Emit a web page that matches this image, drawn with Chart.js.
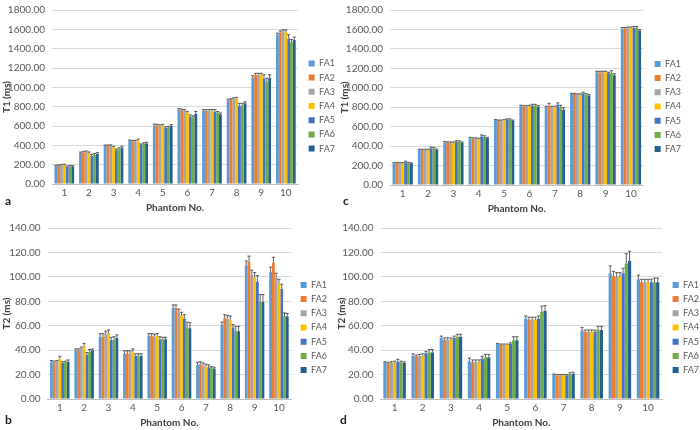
<!DOCTYPE html>
<html>
<head>
<meta charset="utf-8">
<script src="https://cdn.jsdelivr.net/npm/chart.js@4.4.0/dist/chart.umd.min.js"></script>
<style>
  html, body { margin: 0; overflow: hidden; }
  body { background: #fff; width: 700px; height: 430px; position: relative; font-family: Lato, sans-serif; }
  .panel { position: absolute; }
  .tag { position: absolute; font: bold 12px Lato, sans-serif; color: #222; }
</style>
</head>
<body>
<div class="panel" style="left:0;top:-3px;width:347px;height:217px"><canvas id="chartA"></canvas></div>
<div class="panel" style="left:335px;top:-3px;width:358px;height:218px"><canvas id="chartC"></canvas></div>
<div class="panel" style="left:0;top:215px;width:339px;height:214px"><canvas id="chartB"></canvas></div>
<div class="panel" style="left:335px;top:215px;width:376px;height:214px"><canvas id="chartD"></canvas></div>
<div class="tag" style="left:5px;top:193px">a</div>
<div class="tag" style="left:343px;top:193px">c</div>
<div class="tag" style="left:5px;top:412px">b</div>
<div class="tag" style="left:340px;top:412px">d</div>
<script>
const phantoms = ['1', '2', '3', '4', '5', '6', '7', '8', '9', '10'];
const seriesNames = ['FA1', 'FA2', 'FA3', 'FA4', 'FA5', 'FA6', 'FA7'];
const seriesColors = ['#5B9BD5', '#ED7D31', '#A5A5A5', '#FFC000', '#4472C4', '#70AD47', '#255E91'];

// panel a: T1
const t1A = [
  [185, 320, 395, 445, 605, 770, 755, 865, 1100, 1545],
  [190, 325, 395, 440, 605, 765, 755, 870, 1125, 1565],
  [193, 330, 395, 440, 600, 760, 755, 880, 1130, 1580],
  [195, 320, 380, 450, 605, 740, 755, 885, 1130, 1575],
  [180, 290, 350, 405, 580, 700, 750, 810, 1090, 1505],
  [182, 300, 360, 415, 585, 690, 735, 810, 1055, 1465],
  [182, 310, 375, 420, 600, 725, 720, 835, 1095, 1490]
];
const t1AErr = [
  [8, 10, 8, 10, 15, 10, 15, 12, 20, 15],
  [8, 10, 8, 10, 12, 10, 15, 12, 20, 20],
  [8, 12, 10, 12, 12, 10, 15, 12, 15, 15],
  [10, 12, 10, 15, 12, 12, 15, 12, 15, 20],
  [8, 15, 12, 10, 12, 15, 20, 25, 40, 40],
  [8, 15, 15, 12, 12, 15, 15, 25, 40, 30],
  [8, 15, 15, 12, 15, 25, 15, 15, 35, 30]
];

// panel c: T1
const t1C = [
  [225, 360, 440, 480, 665, 810, 800, 935, 1160, 1610],
  [225, 360, 435, 475, 660, 805, 815, 935, 1160, 1610],
  [225, 360, 435, 475, 660, 805, 800, 930, 1160, 1615],
  [225, 360, 435, 470, 665, 810, 800, 930, 1160, 1615],
  [235, 375, 445, 500, 670, 815, 825, 940, 1150, 1615],
  [225, 375, 445, 495, 670, 815, 800, 930, 1150, 1615],
  [220, 360, 435, 480, 660, 805, 775, 920, 1130, 1590]
];
const t1CErr = [
  [5, 8, 8, 10, 8, 10, 10, 8, 10, 10],
  [5, 8, 8, 10, 8, 10, 25, 8, 10, 10],
  [5, 8, 8, 10, 8, 10, 10, 8, 10, 10],
  [5, 8, 8, 10, 8, 10, 10, 8, 10, 10],
  [10, 15, 10, 15, 10, 15, 20, 15, 10, 15],
  [8, 12, 10, 12, 10, 15, 20, 10, 25, 15],
  [8, 10, 8, 10, 8, 12, 20, 10, 15, 10]
];

// panel b: T2
const t2B = [
  [30.5, 40, 51, 37, 51.5, 74.5, 28, 60.5, 109.5, 104],
  [30, 40, 51, 37, 51.5, 74.5, 28.5, 66.5, 112.5, 111.5],
  [30.5, 41.5, 53, 37, 51, 71, 27.5, 66, 101.5, 99.5],
  [33, 43.5, 54, 38.5, 51.5, 68.5, 26.5, 65, 99.5, 94],
  [29.5, 36, 48, 35.5, 49, 66, 26, 58.5, 96, 90],
  [30, 38.5, 48.5, 35.5, 49, 58.5, 25.5, 55.5, 79.5, 68],
  [30.5, 40, 50, 35.5, 49, 58, 25, 55.5, 79.5, 67.5]
];
const t2BErr = [
  [1, 1, 2.5, 2.5, 2, 2.5, 2, 2.5, 3.5, 4],
  [1, 1, 2.5, 2.5, 2, 2.5, 2, 2.5, 4.5, 4.5],
  [1, 1, 2.5, 2.5, 2, 2.5, 2, 2.5, 4, 3.5],
  [2, 2, 2.5, 2.5, 2, 2.5, 2, 3, 4, 4],
  [1, 2, 2.5, 1.5, 2, 3, 2, 2.5, 5, 4],
  [1, 2, 2.5, 1.5, 1.5, 4.5, 1, 4, 6, 2.5],
  [1.5, 1, 2.5, 1.5, 1.5, 4.5, 1, 4, 6, 2.5]
];

// panel d: T2
const t2D = [
  [30, 35.5, 50, 31, 45, 66, 20, 56, 103, 98],
  [29.5, 35, 48.5, 30, 44.5, 65, 19.5, 55, 100.5, 95.5],
  [29.5, 35, 48.5, 30, 44.5, 65, 19.5, 55, 100, 95.5],
  [30, 35.5, 48.5, 30, 44.5, 65, 19.5, 55, 100, 95.5],
  [30.5, 37.5, 50, 33, 45, 66, 19.5, 55, 103, 95.5],
  [30, 38, 51, 34, 48, 71.5, 20, 56.5, 111, 95.5],
  [29.5, 38, 51, 34, 48, 72, 20.5, 56.5, 113, 95.5]
];
const t2DErr = [
  [0.5, 1.5, 1.5, 2.5, 0.5, 2, 0.5, 2.5, 6, 3.5],
  [0.5, 1, 1.5, 2, 0.5, 2, 0.5, 1.5, 4, 2.5],
  [1, 1.5, 1.5, 2, 0.5, 2, 0.5, 1.5, 3.5, 2.5],
  [1, 1.5, 1.5, 2, 0.5, 2, 0.5, 1.5, 3.5, 2.5],
  [2, 1.5, 1.5, 2, 1, 2, 0.5, 1.5, 4, 2.5],
  [1, 2.5, 2, 2.5, 3, 4.5, 1.5, 3, 8, 3.5],
  [1, 2.5, 2, 2.5, 3, 4.5, 1.5, 3, 8, 3.5]
];

const fontFamily = 'Lato, sans-serif';

// upper error bars with caps, drawn from the y scale
const errorBars = {
  id: 'errorBars',
  afterDatasetsDraw(chart) {
    const ctx = chart.ctx;
    const y = chart.scales.y;
    ctx.save();
    ctx.strokeStyle = '#3a3a3a';
    ctx.lineWidth = 0.8;
    chart.data.datasets.forEach((ds, i) => {
      const meta = chart.getDatasetMeta(i);
      if (meta.hidden) return;
      meta.data.forEach((bar, j) => {
        const top = y.getPixelForValue(ds.data[j] + ds.errors[j]);
        ctx.beginPath();
        ctx.moveTo(bar.x, bar.y);
        ctx.lineTo(bar.x, top);
        ctx.moveTo(bar.x - 1.6, top);
        ctx.lineTo(bar.x + 1.6, top);
        ctx.stroke();
      });
    });
    ctx.restore();
  }
};

function makeChart(id, values, errors, yMax, yStep, yTitle, axisWidth, padTop, padLeft, gapWidth) {
  const ctx = document.getElementById(id).getContext('2d');
  return new Chart(ctx, {
    type: 'bar',
    data: {
      labels: phantoms,
      datasets: seriesNames.map((name, i) => ({
        label: name,
        data: values[i],
        errors: errors[i],
        backgroundColor: seriesColors[i],
        borderWidth: 0,
        categoryPercentage: 0.8,
        barPercentage: 1.0,
      })),
    },
    options: {
      responsive: true,
      maintainAspectRatio: false,
      animation: false,
      layout: { padding: { top: padTop, left: padLeft, right: 2, bottom: 0 } },
      scales: {
        y: {
          min: 0,
          max: yMax,
          ticks: { stepSize: yStep, color: '#595959', font: { family: fontFamily, size: 10 }, padding: 7,
                   callback: v => v.toFixed(2) },
          grid: { color: '#D9D9D9', drawTicks: false },
          border: { display: false },
          title: { display: true, text: yTitle, color: '#404040', font: { family: fontFamily, size: 10, weight: 'bold' }, padding: 0 },
          afterFit: scale => { scale.width = axisWidth; },
        },
        // empty spacer between plot and legend
        gap: {
          type: 'linear',
          position: 'right',
          display: true,
          grid: { display: false, drawTicks: false },
          ticks: { display: false },
          border: { display: false },
          afterFit: scale => { scale.width = gapWidth; },
        },
        x: {
          ticks: { color: '#595959', font: { family: fontFamily, size: 10 }, padding: 3 },
          grid: { display: false, drawTicks: false },
          border: { color: '#BFBFBF' },
          title: { display: true, text: 'Phantom No.', color: '#404040', font: { family: fontFamily, size: 10, weight: 'bold' }, padding: 0 },
        },
      },
      plugins: {
        legend: {
          position: 'right',
          labels: { boxWidth: 6, boxHeight: 6, padding: 5.2, color: '#595959', font: { family: fontFamily, size: 9 } },
        },
        tooltip: { enabled: false },
      },
    },
    plugins: [errorBars],
  });
}

makeChart('chartA', t1A, t1AErr, 1800, 200, 'T1 (ms)', 51, 1, 1, 5.3);
makeChart('chartC', t1C, t1CErr, 1800, 200, 'T1 (ms)', 51, 1, 4, 5.8);
makeChart('chartB', t2B, t2BErr, 140, 20, 'T2 (ms)', 46.6, 11, 1, 4.3);
makeChart('chartD', t2D, t2DErr, 140, 20, 'T2 (ms)', 44.5, 11, 1, 5.3);
</script>
</body>
</html>
